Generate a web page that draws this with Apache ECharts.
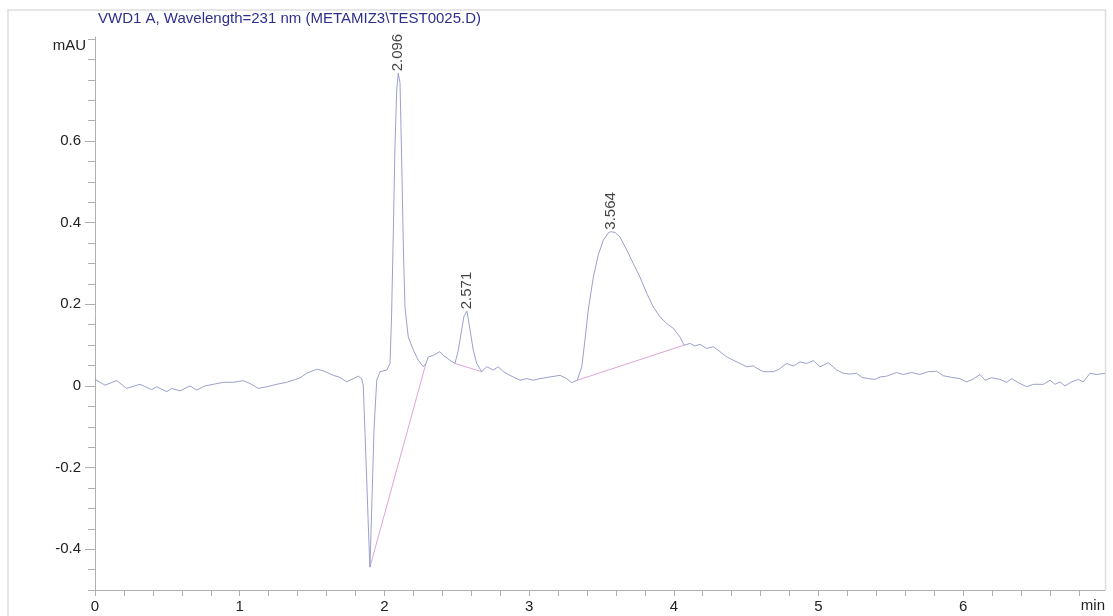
<!DOCTYPE html>
<html>
<head>
<meta charset="utf-8">
<title>VWD1 A chromatogram</title>
<script src="https://cdn.jsdelivr.net/npm/echarts@6/dist/echarts.min.js"></script>
<style>
  html, body { margin: 0; padding: 0; background: #ffffff; }
  #chart { width: 1113px; height: 616px; }
</style>
</head>
<body>
<div id="chart"></div>
<script>
// Detector signal: retention time (min) and absorbance (mAU)
const times = [
  0.000, 0.069, 0.150, 0.219, 0.311, 0.392, 0.426, 0.496, 0.530, 0.587,
  0.657, 0.703, 0.760, 0.818, 0.887, 0.956, 1.025, 1.071, 1.129, 1.187,
  1.256, 1.325, 1.370, 1.417, 1.463, 1.532, 1.578, 1.647, 1.693, 1.739,
  1.785, 1.820, 1.843, 1.854, 1.873, 1.890, 1.900, 1.914, 1.928, 1.947,
  1.970, 2.016, 2.039, 2.050, 2.062, 2.073, 2.085, 2.096, 2.108, 2.120,
  2.131, 2.142, 2.165, 2.200, 2.234, 2.269, 2.287, 2.303, 2.338, 2.384,
  2.407, 2.453, 2.488, 2.511, 2.534, 2.550, 2.571, 2.592, 2.614, 2.638,
  2.672, 2.707, 2.753, 2.787, 2.822, 2.868, 2.937, 2.983, 3.029, 3.075,
  3.144, 3.214, 3.260, 3.294, 3.333, 3.364, 3.386, 3.409, 3.444, 3.478,
  3.513, 3.547, 3.564, 3.594, 3.628, 3.675, 3.720, 3.766, 3.813, 3.858,
  3.905, 3.951, 3.997, 4.043, 4.071, 4.112, 4.147, 4.181, 4.227, 4.273,
  4.319, 4.366, 4.411, 4.458, 4.504, 4.549, 4.596, 4.619, 4.688, 4.723,
  4.780, 4.826, 4.872, 4.918, 4.964, 5.010, 5.068, 5.126, 5.171, 5.218,
  5.264, 5.299, 5.344, 5.390, 5.425, 5.471, 5.540, 5.586, 5.644, 5.701,
  5.759, 5.817, 5.862, 5.921, 5.978, 6.024, 6.070, 6.116, 6.151, 6.197,
  6.254, 6.301, 6.335, 6.381, 6.439, 6.485, 6.554, 6.600, 6.634, 6.669,
  6.703, 6.750, 6.795, 6.830, 6.876, 6.923, 6.980
];
const signal = [
  0.016, 0.002, 0.013, -0.006, 0.004, -0.009, -0.002, -0.014, -0.006, -0.012,
  0.000, -0.010, 0.000, 0.004, 0.009, 0.009, 0.013, 0.006, -0.006, -0.002,
  0.004, 0.009, 0.014, 0.020, 0.031, 0.041, 0.037, 0.026, 0.021, 0.010,
  0.018, 0.024, 0.018, 0.000, -0.182, -0.353, -0.444, -0.280, -0.108, 0.014,
  0.035, 0.039, 0.055, 0.178, 0.382, 0.586, 0.725, 0.766, 0.742, 0.546,
  0.341, 0.194, 0.120, 0.088, 0.063, 0.047, 0.055, 0.071, 0.075, 0.084,
  0.075, 0.063, 0.055, 0.088, 0.137, 0.171, 0.183, 0.137, 0.088, 0.055,
  0.035, 0.047, 0.039, 0.047, 0.035, 0.026, 0.014, 0.018, 0.014, 0.018,
  0.022, 0.026, 0.018, 0.008, 0.014, 0.047, 0.112, 0.186, 0.267, 0.321,
  0.357, 0.375, 0.378, 0.376, 0.365, 0.333, 0.300, 0.267, 0.227, 0.194,
  0.169, 0.153, 0.141, 0.120, 0.100, 0.104, 0.098, 0.102, 0.092, 0.096,
  0.084, 0.071, 0.063, 0.055, 0.047, 0.049, 0.039, 0.035, 0.035, 0.040,
  0.055, 0.049, 0.059, 0.055, 0.062, 0.047, 0.057, 0.039, 0.031, 0.029,
  0.031, 0.021, 0.018, 0.016, 0.022, 0.024, 0.033, 0.028, 0.033, 0.028,
  0.035, 0.036, 0.025, 0.021, 0.018, 0.010, 0.017, 0.028, 0.014, 0.020,
  0.016, 0.009, 0.018, 0.008, -0.002, 0.004, 0.004, 0.014, 0.004, 0.010,
  0.000, 0.010, 0.016, 0.010, 0.031, 0.028, 0.031
];

// Integrated peaks: retention time and apex height
const peakTimes = [2.096, 2.571, 3.564];
const peakHeights = [0.766, 0.183, 0.378];

// Integration baselines: [start time, start value, end time, end value]
const baselineA = [1.900, -0.444, 2.287, 0.055];
const baselineB = [2.488, 0.055, 2.672, 0.035];
const baselineC = [3.333, 0.014, 4.071, 0.100];

// Axis tick labels
const xTickLabels = [0, 1, 2, 3, 4, 5, 6];
const yTickLabels = [-0.4, -0.2, 0, 0.2, 0.4, 0.6];

const titleText = 'VWD1 A, Wavelength=231 nm (METAMIZ3\\TEST0025.D)';

const X_MIN = 0, X_MAX = 6.98;
const Y_MIN = -0.5, Y_MAX = 0.855;

const xMinorTicks = [];
for (let i = 0; i * 0.2 <= X_MAX + 1e-9; i++) xMinorTicks.push(Math.round(i * 2) / 10);
const yMinorTicks = [];
for (let i = -10; i * 0.05 <= Y_MAX + 1e-9; i++) yMinorTicks.push(Math.round(i * 5) / 100);

const traceData = times.map((t, i) => [t, signal[i]]);
const peakData = peakTimes.map((t, i) => [t, peakHeights[i]]);
const toSegment = b => [[b[0], b[1]], [b[2], b[3]]];

const FONT = '"Liberation Sans", Arial, Helvetica, sans-serif';
const AXIS_COLOR = '#b0b0b0';
const TRACE_COLOR = '#9195c4';
const BASE_COLOR = '#e0a4da';

const chart = echarts.init(document.getElementById('chart'), null, { renderer: 'canvas' });

const baselineSeries = [baselineA, baselineB, baselineC].map(b => ({
  type: 'line',
  data: toSegment(b),
  showSymbol: false,
  silent: true,
  z: 3,
  lineStyle: { color: BASE_COLOR, width: 1 }
}));

chart.setOption({
  animation: false,
  backgroundColor: '#ffffff',
  textStyle: { fontFamily: FONT },
  grid: { left: 95, right: 8, top: 37, bottom: 26, outerBoundsMode: 'none', containLabel: false },
  xAxis: {
    type: 'value',
    min: X_MIN,
    max: X_MAX,
    axisLine: { show: true, onZero: false, lineStyle: { color: AXIS_COLOR, width: 1 } },
    axisTick: { show: true, inside: false, length: 6, customValues: xMinorTicks, lineStyle: { color: AXIS_COLOR } },
    axisLabel: { show: true, customValues: xTickLabels, margin: 9, color: '#222', fontSize: 15, fontFamily: FONT },
    splitLine: { show: false }
  },
  yAxis: [
    {
      type: 'value',
      min: Y_MIN,
      max: Y_MAX,
      axisLine: { show: true, onZero: false, lineStyle: { color: AXIS_COLOR, width: 1 } },
      axisTick: { show: true, inside: false, length: 10, customValues: yTickLabels, lineStyle: { color: AXIS_COLOR } },
      axisLabel: { show: true, customValues: yTickLabels, margin: 14, color: '#222', fontSize: 15, fontFamily: FONT },
      splitLine: { show: false }
    },
    {
      type: 'value',
      position: 'left',
      offset: 0,
      min: Y_MIN,
      max: Y_MAX,
      axisLine: { show: false },
      axisTick: { show: true, inside: false, length: 7, customValues: yMinorTicks, lineStyle: { color: AXIS_COLOR } },
      axisLabel: { show: false },
      splitLine: { show: false }
    }
  ],
  graphic: [
    // outer frame
    {
      type: 'polyline',
      silent: true,
      shape: { points: [[8, 616], [8, 10], [1105.5, 10], [1105.5, 590]] },
      style: { stroke: '#dedede', lineWidth: 1.5, fill: null }
    },
    {
      type: 'text',
      left: 98,
      top: 11,
      style: { text: titleText, fill: '#2f2f8f', font: '15px ' + FONT }
    },
    {
      type: 'text',
      x: 86,
      y: 46,
      style: { text: 'mAU', fill: '#222', font: '15px ' + FONT, align: 'right', verticalAlign: 'middle' }
    },
    {
      type: 'text',
      x: 1105,
      y: 606,
      style: { text: 'min', fill: '#222', font: '15px ' + FONT, align: 'right', verticalAlign: 'middle' }
    }
  ],
  series: [
    {
      type: 'line',
      name: 'VWD1 A',
      data: traceData,
      showSymbol: false,
      silent: true,
      z: 4,
      lineStyle: { color: TRACE_COLOR, width: 0.9 }
    },
    ...baselineSeries,
    {
      type: 'scatter',
      data: peakData,
      symbolSize: 0,
      silent: true,
      z: 5,
      label: {
        show: true,
        position: 'top',
        distance: 2,
        rotate: 90,
        align: 'left',
        verticalAlign: 'middle',
        color: '#111',
        fontSize: 15,
        fontFamily: FONT,
        formatter: p => p.value[0].toFixed(3)
      }
    }
  ]
});
</script>
</body>
</html>
